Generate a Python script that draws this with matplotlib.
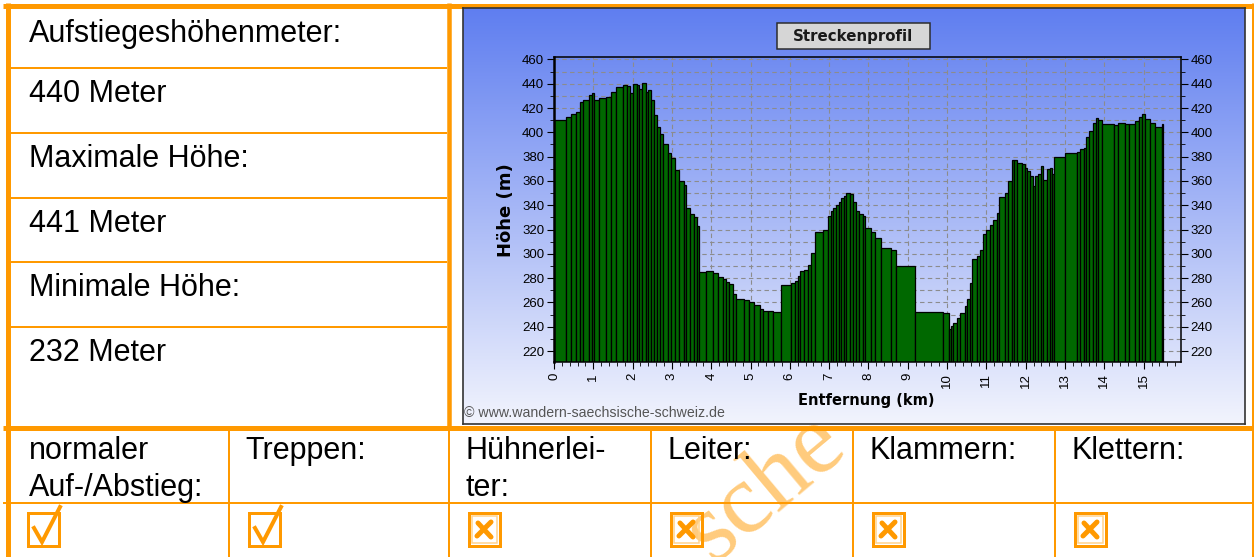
import numpy as np
import matplotlib.pyplot as plt
from matplotlib.patches import Rectangle
from matplotlib.colors import LinearSegmentedColormap
from matplotlib.ticker import MultipleLocator

# Hoehenprofil: linke Kante jedes Balkens (km) und Hoehe (m)
strecke_km = [
    0.00, 0.30, 0.42, 0.55, 0.66, 0.75, 0.89, 0.96, 1.02, 1.15,
    1.32, 1.45, 1.58, 1.75, 1.85, 1.93, 2.00, 2.10, 2.17, 2.25,
    2.33, 2.40, 2.48, 2.55, 2.63, 2.70, 2.78, 2.90, 2.97, 3.07,
    3.18, 3.30, 3.37, 3.45, 3.55, 3.63, 3.70, 3.87, 4.04, 4.16,
    4.29, 4.38, 4.46, 4.55, 4.63, 4.84, 4.97, 5.10, 5.23, 5.31,
    5.45, 5.57, 5.78, 6.03, 6.12, 6.20, 6.25, 6.37, 6.46, 6.54,
    6.63, 6.84, 6.97, 7.05, 7.10, 7.18, 7.25, 7.31, 7.38, 7.44,
    7.52, 7.61, 7.69, 7.77, 7.86, 7.90, 8.07, 8.16, 8.33, 8.58,
    8.71, 9.18, 9.90, 10.05, 10.11, 10.16, 10.24, 10.33, 10.45, 10.51,
    10.58, 10.64, 10.75, 10.84, 10.92, 11.00, 11.09, 11.18, 11.26, 11.32,
    11.47, 11.54, 11.64, 11.69, 11.77, 11.90, 11.98, 12.04, 12.11, 12.18,
    12.24, 12.32, 12.39, 12.45, 12.54, 12.62, 12.66, 12.72, 13.00, 13.30,
    13.39, 13.47, 13.54, 13.62, 13.71, 13.78, 13.85, 13.94, 14.24, 14.36,
    14.53, 14.62, 14.79, 14.87, 14.96, 15.04, 15.17, 15.30, 15.46,
]
hoehe_m = [
    410, 413, 415, 417, 425, 427, 431, 432, 427, 428,
    429, 433, 437, 439, 438, 432, 440, 439, 436, 441,
    433, 435, 427, 414, 404, 399, 390, 383, 379, 369,
    360, 357, 338, 333, 330, 323, 285, 286, 284, 281,
    279, 277, 275, 267, 263, 262, 260, 258, 255, 253,
    253, 252, 274, 276, 278, 282, 286, 287, 291, 301,
    318, 320, 331, 335, 338, 340, 343, 346, 348, 350,
    349, 343, 335, 333, 331, 321, 318, 313, 305, 303,
    290, 252, 251, 238, 241, 243, 247, 251, 257, 263,
    276, 296, 298, 303, 316, 320, 324, 328, 334, 347,
    350, 360, 377, 377, 375, 374, 371, 368, 364, 356,
    364, 366, 372, 361, 370, 371, 366, 380, 383, 384,
    386, 387, 396, 401, 408, 412, 410, 407, 406, 408,
    407, 407, 409, 413, 415, 411, 408, 404, 407,
]
strecke_ende_km = 15.50

y_ticks = list(range(220, 461, 20))
x_ticks = list(range(0, 16))

info_texte = ["Aufstiegeshöhenmeter:", "440 Meter", "Maximale Höhe:",
              "441 Meter", "Minimale Höhe:", "232 Meter"]
weg_arten = ["normaler\nAuf-/Abstieg:", "Treppen:", "Hühnerlei-\nter:",
             "Leiter:", "Klammern:", "Klettern:"]
weg_erlaubt = [True, True, False, False, False, False]

ORANGE = "#ff9900"
W, H = 1254, 557
PX = 0.72  # 1 px in pt bei dpi 100

fig = plt.figure(figsize=(W / 100, H / 100), dpi=100)


def px_axes(x0, y0, x1, y1):
    return [x0 / W, 1 - y1 / H, (x1 - x0) / W, (y1 - y0) / H]


# --- Tabelle (Pixelkoordinaten) ---
bg = fig.add_axes([0, 0, 1, 1])
bg.set_xlim(0, W)
bg.set_ylim(H, 0)
bg.axis("off")


def linie(xs, ys, breite):
    bg.plot(xs, ys, color=ORANGE, lw=breite * PX, solid_capstyle="butt", zorder=2)


linie([3, W], [5.5, 5.5], 5)
linie([7.5, 7.5], [3, H], 5)
linie([1252.5, 1252.5], [3, H], 3)
linie([448.5, 448.5], [3, 430], 4.5)
linie([3, W], [427.5, 427.5], 5)
linie([3, W], [503, 503], 2)
zeilen_oben = [8, 68, 133, 198, 262, 327]
for y in zeilen_oben[1:]:
    linie([8, 447], [y, y], 2)
spalten = [8, 229, 449, 651, 853, 1055, 1252]
for x in spalten[1:-1]:
    linie([x, x], [430, H], 2)

schrift = dict(family="Liberation Sans", fontsize=22, color="black", zorder=3)
for top, txt in zip(zeilen_oben, info_texte):
    bg.text(29, top + 34, txt, va="baseline", ha="left", **schrift)

for i, txt in enumerate(weg_arten):
    x0 = spalten[i]
    tx = 29 if i == 0 else x0 + 16
    for j, zeile in enumerate(txt.split("\n")):
        bg.text(tx, 459 + 37 * j, zeile, va="baseline", ha="left", **schrift)
    bx, by, bw, bh = x0 + 20, 513, 31, 33
    bg.add_patch(Rectangle((bx, by), bw, bh, fill=False, ec=ORANGE, lw=3 * PX, zorder=3))
    if weg_erlaubt[i]:
        bg.plot([bx + 6, bx + 14, bx + bw + 1], [by + 15, by + 29, by - 6],
                color=ORANGE, lw=4 * PX, solid_joinstyle="miter", zorder=4)
    else:
        bg.add_patch(Rectangle((bx + 3, by + 3), bw - 6, bh - 6, fill=False,
                               ec="#ffd28a", lw=1.5 * PX, zorder=3))
        bg.plot([bx + 9, bx + 22], [by + 10, by + 24], color=ORANGE,
                lw=5 * PX, solid_capstyle="round", zorder=4)
        bg.plot([bx + 22, bx + 8], [by + 9, by + 23], color=ORANGE,
                lw=5 * PX, solid_capstyle="round", zorder=4)

# Wasserzeichen
bg.text(766, 488, "sche", rotation=40, fontsize=72, family="Liberation Serif",
        color="#ffbe5c", alpha=0.8, ha="center", va="center", zorder=1)

# --- Diagramm-Bild mit Farbverlauf ---
fr = fig.add_axes(px_axes(463, 8, 1245, 424))
fr.set_xlim(463, 1245)
fr.set_ylim(424, 8)
verlauf = LinearSegmentedColormap.from_list("verlauf", ["#5f7ef0", "#f2f4fd"])
fr.imshow(np.linspace(0, 1, 256)[:, None], cmap=verlauf, aspect="auto",
          extent=(463, 1245, 424, 8))
fr.set_xticks([])
fr.set_yticks([])
for sp in fr.spines.values():
    sp.set_color("#333333")
    sp.set_linewidth(1.2)

fr.add_patch(Rectangle((777, 23), 153, 26, fc="#d6d6d6", ec="#2a2a2a", lw=1.5 * PX))
fr.text(853.5, 36.5, "Streckenprofil", ha="center", va="center",
        fontsize=10.8, fontweight="bold", color="#1a1a1a")
fr.text(506, 210, "Höhe (m)", rotation=90, ha="center", va="center",
        fontsize=13, fontweight="bold", color="black")
fr.text(866, 401, "Entfernung (km)", ha="center", va="center",
        fontsize=10.5, fontweight="bold", color="black")
fr.text(464, 413, "© www.wandern-saechsische-schweiz.de", ha="left", va="center",
        fontsize=10.2, family="Liberation Sans", color="#555555")

# --- Hoehenprofil ---
ax = fig.add_axes(px_axes(554, 57, 1181, 362))
ax.set_facecolor("none")
breite = np.diff(np.append(strecke_km, strecke_ende_km))
ax.bar(strecke_km, hoehe_m, width=breite, align="edge", color="#006800",
       edgecolor="black", linewidth=0.9, zorder=2)
ax.set_xlim(0, 15.95)
ax.set_ylim(211, 462)
ax.set_yticks(y_ticks)
ax.yaxis.set_minor_locator(MultipleLocator(10))
ax.set_xticks(x_ticks)
ax.xaxis.set_minor_locator(MultipleLocator(0.2))
ax.set_axisbelow(True)
ax.grid(True, which="both", axis="y", ls=(0, (4, 3)), color="#8c8c8c", lw=0.8)
ax.grid(True, which="major", axis="x", ls=(0, (4, 3)), color="#8c8c8c", lw=0.8)
ax.tick_params(axis="y", which="both", left=True, right=True, labelleft=True,
               labelright=True, direction="out", labelsize=9.5, pad=2)
ax.tick_params(axis="x", which="major", labelrotation=90, labelsize=9.5, pad=3)
ax.tick_params(which="major", length=5)
ax.tick_params(which="minor", length=3)
for lbl in ax.get_xticklabels() + ax.get_yticklabels():
    lbl.set_family("Liberation Sans")
ax.spines["left"].set_linewidth(1.8)
for s in ["right", "bottom", "top"]:
    ax.spines[s].set_linewidth(1.1)

fig.savefig("out.png", dpi=100)
